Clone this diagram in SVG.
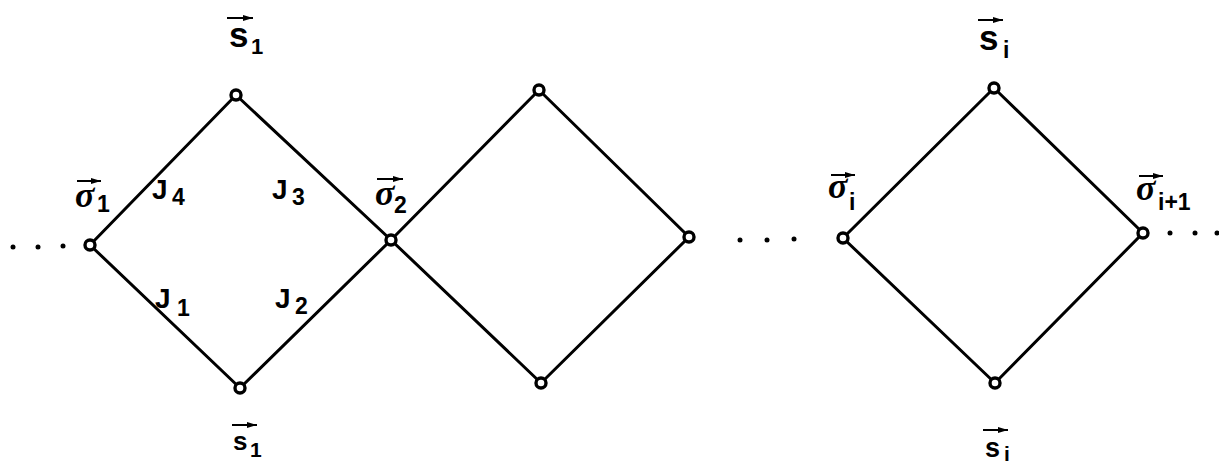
<svg xmlns="http://www.w3.org/2000/svg" width="1219" height="464" viewBox="0 0 1219 464">
<defs>
<marker id="ah" viewBox="0 0 10 6" refX="10" refY="3" markerWidth="10" markerHeight="6" markerUnits="userSpaceOnUse" orient="auto">
<path d="M0,0 L10,3 L0,6 Z" fill="#000"/>
</marker>
</defs>
<style>
.edge{stroke:#000;stroke-width:3;fill:none;stroke-linecap:round}
.node{fill:#fff;stroke:#000;stroke-width:3.4}
.dot{fill:#000}
.vec{stroke:#000;stroke-width:2;marker-end:url(#ah)}
.t{font-family:"Liberation Sans",Arial,sans-serif;font-weight:bold;fill:#000}
.g{font-family:"Liberation Serif","Times New Roman",serif;font-style:italic;font-weight:bold;fill:#000}
</style>
<rect width="1219" height="464" fill="#fff"/>
<g id="connectors">
<path class="edge" d="M90,245 L236,95 L391,240 L240,388 Z"/>
<path class="edge" d="M391,240 L539,90 L689,237 L541,383 Z"/>
<path class="edge" d="M843,238 L994,88 L1143,233 L995,383 Z"/>
</g>
<g id="dots">
<circle class="dot" cx="13" cy="247" r="2.5"/>
<circle class="dot" cx="38" cy="247" r="2.5"/>
<circle class="dot" cx="63" cy="246" r="2.5"/>
<circle class="dot" cx="740" cy="240" r="2.5"/>
<circle class="dot" cx="767" cy="240" r="2.5"/>
<circle class="dot" cx="794" cy="239" r="2.5"/>
<circle class="dot" cx="1170" cy="233" r="2.5"/>
<circle class="dot" cx="1195" cy="233" r="2.5"/>
<circle class="dot" cx="1217" cy="233" r="2.5"/>
</g>
<g id="n-sigma1"><circle class="node" cx="90" cy="245" r="5"/>
<line class="vec" x1="77" y1="181" x2="101" y2="181"/>
<text class="g" x="75" y="207" font-size="36">σ</text><text class="t" x="97" y="212" font-size="23">1</text></g>
<g id="n-s1top"><circle class="node" cx="236" cy="95" r="5"/>
<line class="vec" x1="227" y1="18" x2="253" y2="18"/>
<text class="t" x="229" y="47" font-size="35">s</text><text class="t" x="251" y="54" font-size="22">1</text></g>
<g id="n-s1bot"><circle class="node" cx="240" cy="388" r="5"/>
<line class="vec" x1="232" y1="425" x2="257" y2="425"/>
<text class="t" x="233" y="450" font-size="26">s</text><text class="t" x="250" y="457" font-size="21">1</text></g>
<g id="n-sigma2"><circle class="node" cx="391" cy="240" r="5"/>
<line class="vec" x1="377" y1="179" x2="403" y2="179"/>
<text class="g" x="375" y="205" font-size="36">σ</text><text class="t" x="394" y="213" font-size="23">2</text></g>
<g id="n-d2top"><circle class="node" cx="539" cy="90" r="5"/></g>
<g id="n-d2right"><circle class="node" cx="689" cy="237" r="5"/></g>
<g id="n-d2bot"><circle class="node" cx="541" cy="383" r="5"/></g>
<g id="n-sigmai"><circle class="node" cx="843" cy="238" r="5"/>
<line class="vec" x1="831" y1="175" x2="855" y2="175"/>
<text class="g" x="828" y="198" font-size="36">σ</text><text class="t" x="849" y="210" font-size="23">i</text></g>
<g id="n-sitop"><circle class="node" cx="994" cy="88" r="5"/>
<line class="vec" x1="978" y1="20" x2="1003" y2="20"/>
<text class="t" x="979" y="50" font-size="35">s</text><text class="t" x="1003" y="58" font-size="23">i</text></g>
<g id="n-sibot"><circle class="node" cx="995" cy="383" r="5"/>
<line class="vec" x1="983" y1="430" x2="1008" y2="430"/>
<text class="t" x="985" y="457" font-size="27">s</text><text class="t" x="1004" y="461" font-size="21">i</text></g>
<g id="n-sigmai1"><circle class="node" cx="1143" cy="233" r="5"/>
<line class="vec" x1="1139" y1="176" x2="1163" y2="176"/>
<text class="g" x="1136" y="200" font-size="36">σ</text><text class="t" x="1158" y="210" font-size="23">i+1</text></g>
<g id="labels">
<text class="t" x="152" y="199" font-size="28">J</text><text class="t" x="172" y="205" font-size="23">4</text>
<text class="t" x="272" y="199" font-size="28">J</text><text class="t" x="292" y="205" font-size="23">3</text>
<text class="t" x="155" y="308" font-size="28">J</text><text class="t" x="177" y="316" font-size="23">1</text>
<text class="t" x="275" y="308" font-size="28">J</text><text class="t" x="295" y="314" font-size="23">2</text>
</g>
</svg>
